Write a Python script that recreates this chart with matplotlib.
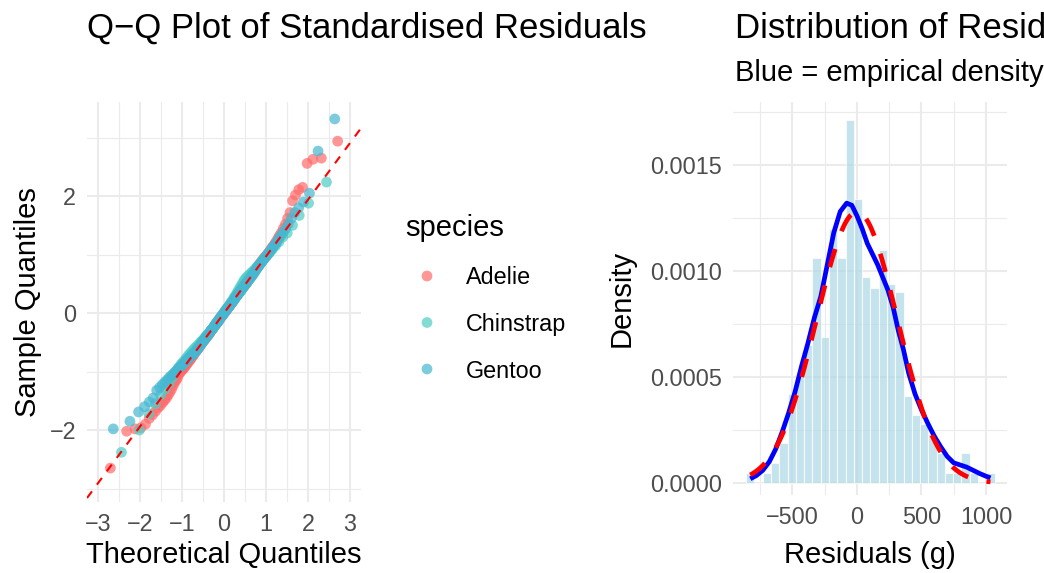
import numpy as np
import matplotlib
matplotlib.use("Agg")
import matplotlib.pyplot as plt
from statistics import NormalDist

# ---------------- data ----------------
species = ["Adelie", "Chinstrap", "Gentoo"]
species_colors = ["#FF6B6B", "#4ECDC4", "#45B7D1"]

# sorted standardised residuals per species (sample quantiles)
adelie_std = [
    -2.65, -2.02, -1.98, -1.96, -1.90, -1.80, -1.74, -1.68, -1.62, -1.58,
    -1.53, -1.49, -1.45, -1.40, -1.35, -1.30, -1.24, -1.19, -1.15, -1.11,
    -1.05, -1.02, -0.99, -0.97, -0.95, -0.92, -0.90, -0.87, -0.85, -0.82,
    -0.80, -0.78, -0.75, -0.73, -0.71, -0.68, -0.66,
    -0.64, -0.62, -0.60, -0.58, -0.55, -0.53, -0.51,
    -0.49, -0.48, -0.46, -0.44, -0.43, -0.41, -0.39, -0.38,
    -0.36, -0.34, -0.32, -0.30, -0.28, -0.27, -0.25,
    -0.23, -0.21, -0.19, -0.18, -0.16, -0.14, -0.12,
    -0.11, -0.09, -0.07, -0.06, -0.04, -0.02, -0.01,
    0.01, 0.02, 0.04, 0.06, 0.07, 0.09, 0.11,
    0.12, 0.14, 0.16, 0.18, 0.19, 0.21, 0.23,
    0.25, 0.27, 0.28, 0.30, 0.32, 0.34, 0.36,
    0.38, 0.39, 0.41, 0.43, 0.44, 0.46, 0.48, 0.49,
    0.51, 0.53, 0.55, 0.58, 0.60, 0.62, 0.64,
    0.66, 0.68, 0.71, 0.73, 0.75, 0.78, 0.80,
    0.82, 0.85, 0.87, 0.90, 0.92, 0.95, 0.97, 0.99, 1.02, 1.05,
    1.08, 1.12, 1.15, 1.19, 1.23, 1.28, 1.33, 1.38, 1.45, 1.52,
    1.62, 1.72, 1.92, 2.02, 2.11, 2.15, 2.56, 2.63, 2.65, 2.94,
]
chinstrap_std = [
    -2.38, -2.00, -1.72, -1.55, -1.40, -1.30, -1.20, -1.10, -1.00, -0.93,
    -0.87, -0.82, -0.77, -0.72, -0.68, -0.64, -0.60, -0.57, -0.54, -0.50,
    -0.47, -0.44, -0.40, -0.37, -0.34, -0.30, -0.27, -0.23, -0.19, -0.15,
    -0.12, -0.08, -0.05, -0.01, 0.03, 0.07, 0.10, 0.14, 0.18, 0.22,
    0.27, 0.31, 0.36, 0.41, 0.46, 0.51, 0.56, 0.60, 0.63, 0.66,
    0.69, 0.72, 0.76, 0.80, 0.84, 0.88, 0.93, 0.98, 1.03, 1.09,
    1.15, 1.22, 1.30, 1.37, 1.50, 1.67, 1.88, 2.24,
]
gentoo_std = [
    -1.98, -1.85, -1.69, -1.60, -1.52, -1.45, -1.32, -1.27, -1.22, -1.18,
    -1.14, -1.10, -1.07, -1.04, -1.01, -0.98, -0.95, -0.92, -0.90, -0.87,
    -0.85, -0.82, -0.80, -0.78, -0.76, -0.74, -0.72, -0.70, -0.68, -0.66,
    -0.64, -0.61, -0.59, -0.57, -0.54, -0.52, -0.49, -0.47, -0.45, -0.42,
    -0.40, -0.38, -0.36, -0.34, -0.31, -0.29, -0.27, -0.25, -0.23, -0.21,
    -0.19, -0.17, -0.15, -0.13, -0.11, -0.08, -0.06, -0.04, -0.02, 0.00,
    0.02, 0.04, 0.06, 0.08, 0.10, 0.12, 0.14, 0.16, 0.18, 0.20,
    0.22, 0.24, 0.27, 0.29, 0.31, 0.33, 0.35, 0.37, 0.39, 0.42,
    0.44, 0.46, 0.49, 0.51, 0.53, 0.56, 0.58, 0.60, 0.63, 0.65,
    0.68, 0.71, 0.74, 0.77, 0.80, 0.83, 0.86, 0.89, 0.92, 0.95,
    0.98, 1.02, 1.05, 1.09, 1.13, 1.17, 1.21, 1.27, 1.32, 1.38,
    1.44, 1.52, 1.62, 1.72, 1.80, 1.90, 2.05, 2.77, 3.32,
]
species_std = [adelie_std, chinstrap_std, gentoo_std]

# reference line of the Q-Q plot
qq_slope = 0.97
qq_intercept = 0.0

# histogram of residuals (g): 30 bins between first and last bin centre
hist_first_center = -827.0
hist_last_center = 1035.0
hist_density_e4 = [
    0.47, 0.0, 0.47, 0.94, 1.87, 4.2, 5.1, 6.5, 10.6, 6.9,
    12.0, 10.6, 17.1, 13.4, 9.7, 9.2, 11.0, 9.4, 9.0, 4.1,
    3.2, 2.8, 2.3, 1.4, 0.47, 0.47, 1.4, 0.47, 0.0, 0.47,
]

# empirical density curve (blue)
kde_x = [-827, -780, -730, -680, -630, -580, -530, -480, -430, -380,
         -330, -280, -230, -180, -130, -80, -40, 0, 40, 80,
         120, 160, 200, 240, 280, 320, 360, 400, 450, 500,
         550, 600, 650, 700, 750, 800, 850, 900, 950, 1000, 1035]
kde_y_e4 = [0.2, 0.35, 0.6, 1.0, 1.6, 2.4, 3.3, 4.3, 5.5, 6.6,
            7.8, 8.8, 10.3, 11.8, 12.8, 13.2, 13.1, 12.6, 12.0, 11.3,
            10.8, 10.3, 9.7, 9.1, 8.3, 7.2, 6.3, 5.2, 4.2, 3.45,
            2.8, 2.2, 1.7, 1.25, 0.95, 0.85, 0.75, 0.6, 0.45, 0.32, 0.24]

# normal reference (red dashed)
resid_mean = 0.0
resid_sd = 312.0

# ---------------- figure ----------------
plt.rcParams['font.family'] = ['Liberation Sans', 'DejaVu Sans']
W, H = 1044, 573
fig = plt.figure(figsize=(W / 100, H / 100), dpi=100)
fig.patch.set_facecolor('white')

def fx(px):
    return px / W

def fy(py):
    return 1 - py / H

TICK_COL = '#4D4D4D'
GRID_COL = '#EBEBEB'
PT_SIZE = 60

def style_axes(ax):
    for s in ax.spines.values():
        s.set_visible(False)
    ax.set_facecolor('white')
    ax.tick_params(length=0, labelsize=16.8, colors=TICK_COL)
    ax.grid(which='major', color=GRID_COL, linewidth=1.5, zorder=0)
    ax.grid(which='minor', color=GRID_COL, linewidth=0.8, zorder=0)
    ax.set_axisbelow(True)

def minus(v, fmt):
    s = fmt.format(v)
    return s.replace('-', '\u2212')

# ---- left: Q-Q plot ----
L0, L1, T0, B0 = 87, 361, 102, 502
axl = fig.add_axes([fx(L0), fy(B0), fx(L1 - L0), (B0 - T0) / H])
style_axes(axl)
for vals, col in zip(species_std, species_colors):
    n = len(vals)
    theo = [NormalDist().inv_cdf((i + 0.5) / n) for i in range(n)]
    axl.scatter(theo, sorted(vals), s=PT_SIZE, color=col, alpha=0.7,
                edgecolors='none', zorder=3)
xlim_l = (-3.26, 3.26)
ylim_l = (-3.23, 3.61)
xl = np.array(xlim_l)
axl.plot(xl, qq_intercept + qq_slope * xl, color='red', lw=1.5,
         ls=(0, (4, 4)), zorder=4)
axl.set_xlim(*xlim_l)
axl.set_ylim(*ylim_l)
xt = [-3, -2, -1, 0, 1, 2, 3]
axl.set_xticks(xt)
axl.set_xticklabels([minus(v, '{:d}') for v in xt])
axl.set_xticks([-2.5, -1.5, -0.5, 0.5, 1.5, 2.5], minor=True)
yt = [-2, 0, 2]
axl.set_yticks(yt)
axl.set_yticklabels([minus(v, '{:d}') for v in yt])
axl.set_yticks([-3, -1, 1, 3], minor=True)
axl.tick_params(which='minor', length=0)
axl.tick_params(axis='x', pad=8)
axl.tick_params(axis='y', pad=8)
axl.set_xlabel('Theoretical Quantiles', fontsize=21, color='black')
axl.set_ylabel('Sample Quantiles', fontsize=21, color='black')
axl.xaxis.label.set_va('center')
axl.yaxis.label.set_va('center')
axl.xaxis.set_label_coords(0.5, (B0 - 555) / (B0 - T0))
axl.yaxis.set_label_coords((28 - L0) / (L1 - L0), 0.5)
fig.text(fx(L0), fy(38), 'Q\u2212Q Plot of Standardised Residuals',
         fontsize=25, ha='left', va='baseline', color='black')

# ---- legend ----
fig.text(fx(405), fy(235.5), 'species', fontsize=21, ha='left',
         va='baseline', color='black')
axg = fig.add_axes([0, 0, 1, 1], facecolor='none')
axg.set_xlim(0, W)
axg.set_ylim(H, 0)
axg.axis('off')
for k, (name, col) in enumerate(zip(species, species_colors)):
    yc = 276 + k * 46.5
    axg.scatter([427], [yc], s=PT_SIZE, color=col, alpha=0.7,
                edgecolors='none')
    fig.text(fx(466), fy(yc + 8.5), name, fontsize=16.8, ha='left',
             va='baseline', color='black')

# ---- right: distribution ----
R0, R1, T1, B1 = 733, 1007, 102, 495
axr = fig.add_axes([fx(R0), fy(B1), fx(R1 - R0), (B1 - T1) / H])
style_axes(axr)
nb = len(hist_density_e4)
bw = (hist_last_center - hist_first_center) / (nb - 1)
centers = [hist_first_center + i * bw for i in range(nb)]
dens = [d * 1e-4 for d in hist_density_e4]
axr.bar(centers, dens, width=bw, color='#ADD8E6', alpha=0.7,
        edgecolor='white', linewidth=0.8, zorder=2)
axr.plot(kde_x, [d * 1e-4 for d in kde_y_e4], color='blue', lw=3.4,
         solid_capstyle='butt', zorder=3)
xs = np.linspace(hist_first_center, hist_last_center, 300)
nd = NormalDist(resid_mean, resid_sd)
axr.plot(xs, [nd.pdf(v) for v in xs], color='red', lw=3.4,
         ls=(0, (4, 4)), zorder=4)
axr.set_xlim(-961, 1163)
axr.set_ylim(-0.0000566, 0.001797)
xr = [-500, 0, 500, 1000]
axr.set_xticks(xr)
axr.set_xticklabels([minus(v, '{:d}') for v in xr])
axr.set_xticks([-750, -250, 250, 750], minor=True)
yr = [0.0, 0.0005, 0.0010, 0.0015]
axr.set_yticks(yr)
axr.set_yticklabels(['{:.4f}'.format(v) for v in yr])
axr.set_yticks([0.00025, 0.00075, 0.00125, 0.00175], minor=True)
axr.tick_params(which='minor', length=0)
axr.tick_params(axis='x', pad=8)
axr.tick_params(axis='y', pad=8)
axr.set_xlabel('Residuals (g)', fontsize=21, color='black')
axr.set_ylabel('Density', fontsize=21, color='black')
axr.xaxis.label.set_va('center')
axr.yaxis.label.set_va('center')
axr.xaxis.set_label_coords(0.5, (B1 - 555) / (B1 - T1))
axr.yaxis.set_label_coords((622 - R0) / (R1 - R0), 0.5)
fig.text(fx(R0 + 2), fy(38), 'Distribution of Residuals', fontsize=25,
         ha='left', va='baseline', color='black')
fig.text(fx(R0 + 2), fy(81), 'Blue = empirical density, Red = normal',
         fontsize=21, ha='left', va='baseline', color='black')

fig.savefig('out.png', dpi=100, facecolor='white')
